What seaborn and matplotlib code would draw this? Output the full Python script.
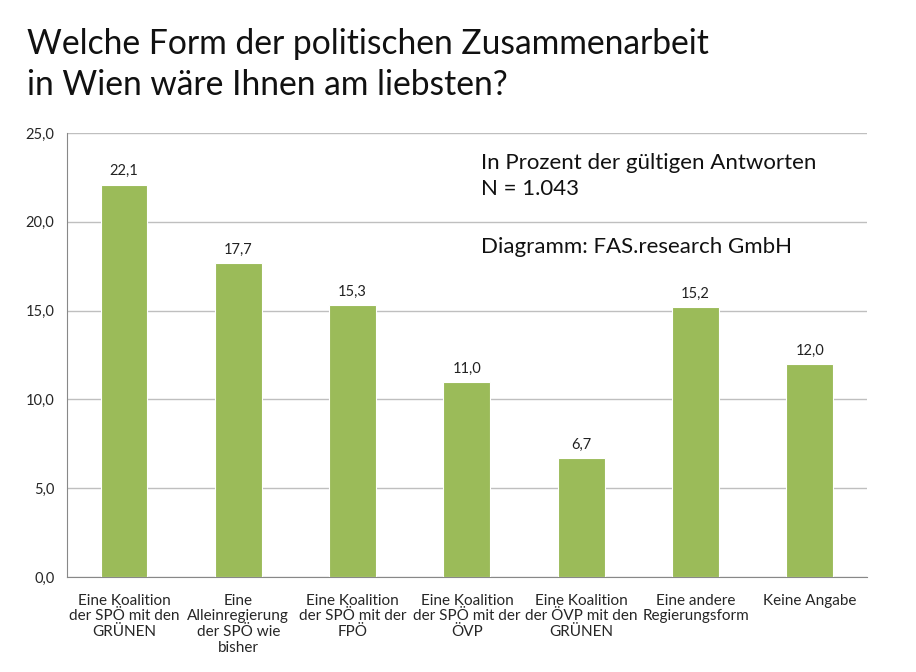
import pandas as pd
import matplotlib.pyplot as plt
import seaborn as sns

kategorien = [
    "Eine Koalition\nder SPÖ mit den\nGRÜNEN",
    "Eine\nAlleinregierung\nder SPÖ wie\nbisher",
    "Eine Koalition\nder SPÖ mit der\nFPÖ",
    "Eine Koalition\nder SPÖ mit der\nÖVP",
    "Eine Koalition\nder ÖVP mit den\nGRÜNEN",
    "Eine andere\nRegierungsform",
    "Keine Angabe",
]
prozent = [22.1, 17.7, 15.3, 11.0, 6.7, 15.2, 12.0]
y_ticks = [0, 5, 10, 15, 20, 25]

df = pd.DataFrame({"Form": kategorien, "Prozent": prozent})

sns.set_style("white")
plt.rcParams["font.family"] = ["Lato", "DejaVu Sans"]

fig = plt.figure(figsize=(9.16, 6.72), dpi=100)
ax = fig.add_axes([0.073, 0.1414, 0.8735, 0.6606])

sns.barplot(data=df, x="Form", y="Prozent", color="#9BBB59", width=0.41,
            saturation=1, ax=ax, zorder=3, edgecolor="white", linewidth=0.8)

for i, v in enumerate(prozent):
    ax.text(i, v + 0.35, f"{v:.1f}".replace(".", ","), ha="center", va="bottom",
            fontsize=10.5, color="#222222")

ax.set_ylim(0, 25)
ax.set_xlim(-0.5, len(kategorien) - 0.5)
ax.set_yticks(y_ticks)
ax.set_yticklabels([f"{t:.1f}".replace(".", ",") for t in y_ticks], fontsize=10.5)
ax.yaxis.grid(True, color="#BFBFBF", linewidth=1, zorder=0)
ax.set_xlabel("")
ax.set_ylabel("")

ax.set_xticks([i - 0.5 for i in range(len(kategorien) + 1)], minor=True)
ax.set_xticks(range(len(kategorien)))
ax.set_xticklabels(kategorien, fontsize=11, linespacing=1.15)
ax.tick_params(axis="x", which="major", length=0, pad=12)
ax.tick_params(axis="x", which="minor", length=5, color="#888888", direction="out")
ax.tick_params(axis="y", length=5, color="#888888", direction="out", pad=4)

for side in ["top", "right"]:
    ax.spines[side].set_visible(False)
ax.spines["left"].set_color("#888888")
ax.spines["bottom"].set_color("#888888")

fig.text(0.0295, 0.935, "Welche Form der politischen Zusammenarbeit", fontsize=24.2,
         ha="left", va="center", color="#111111")
fig.text(0.0295, 0.873, "in Wien wäre Ihnen am liebsten?", fontsize=24.2,
         ha="left", va="center", color="#111111")

ax.text(0.517, 0.955, "In Prozent der gültigen Antworten\nN = 1.043", transform=ax.transAxes,
        fontsize=16, ha="left", va="top", linespacing=1.4, color="#111111")
ax.text(0.517, 0.765, "Diagramm: FAS.research GmbH", transform=ax.transAxes,
        fontsize=16, ha="left", va="top", color="#111111")

fig.savefig("out.png", dpi=100)
